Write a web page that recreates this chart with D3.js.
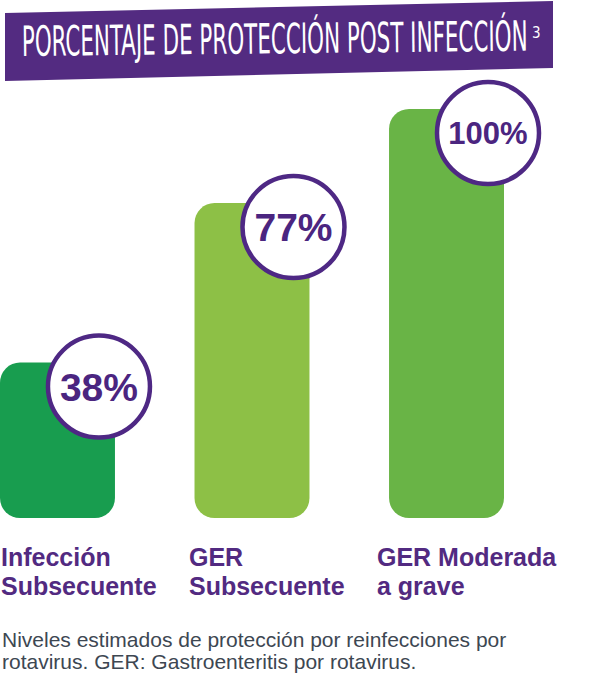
<!DOCTYPE html>
<html>
<head>
<meta charset="utf-8">
<script src="https://cdn.jsdelivr.net/npm/d3@7"></script>
<style>
  body { margin: 0; background: #fff; }
  svg { display: block; }
</style>
</head>
<body>
<div id="chart"></div>
<script>
// data
var categories = ["Infección Subsecuente", "GER Subsecuente", "GER Moderada a grave"]
var labelLines = [["Infección", "Subsecuente"], ["GER", "Subsecuente"], ["GER Moderada", "a grave"]]
var values = [38, 77, 100]
var barColors = ["#189d4f", "#8dc046", "#69b446"]
var title = "PORCENTAJE DE PROTECCIÓN POST INFECCIÓN"
var titleRef = "3"
var footnote = ["Niveles estimados de protección por reinfecciones por",
  "rotavirus. GER: Gastroenteritis por rotavirus."]

var width = 614
var height = 683
var purple = "#522a81"

var svg = d3.select("#chart").append("svg")
  .attr("width", width)
  .attr("height", height)

// title banner (slightly tilted)
svg.append("path")
  .attr("d", "M5,13 L553,1 L553,68 L5,81 Z")
  .attr("fill", "#532b81")

// tall, thin title lettering: fit the width, then stretch vertically
var titleW = 506
var titleG = svg.append("g")
var titleText = titleG.append("text")
  .attr("x", 0)
  .attr("y", 0)
  .style("font-family", "'Liberation Sans Narrow', 'DejaVu Sans Condensed', sans-serif")
  .style("font-size", "24px")
  .style("fill", "#fff")
  .text(title)

var natural = titleText.node().getComputedTextLength()
var fs = 24 * titleW / natural
titleText.style("font-size", fs + "px")
var sy = 30 / (0.72 * fs)
titleG.attr("transform", "translate(22,56) rotate(-0.6) scale(1," + sy + ")")

svg.append("text")
  .attr("x", 22 + titleW + 4)
  .attr("y", 38)
  .style("font-family", "'Liberation Sans Narrow', 'DejaVu Sans Condensed', sans-serif")
  .style("font-size", "15px")
  .style("fill", "#fff")
  .text(titleRef)

// scales
var x = d3.scaleBand()
  .domain(categories)
  .range([0, 504])
  .paddingInner(0.409)
  .paddingOuter(0)

var y = d3.scaleLinear()
  .domain([0, 100])
  .range([518, 109])

var labelX = d3.scalePoint()
  .domain(categories)
  .range([1, 377])

// bars
svg.append("g")
  .selectAll("rect")
  .data(values)
  .enter().append("rect")
  .attr("x", function(d, i) { return x(categories[i]) })
  .attr("y", function(d) { return y(d) })
  .attr("width", x.bandwidth())
  .attr("height", function(d) { return y(0) - y(d) })
  .attr("rx", 20)
  .attr("ry", 20)
  .attr("fill", function(d, i) { return barColors[i] })

// value bubbles
var bubbles = svg.append("g")
  .selectAll("g")
  .data(values)
  .enter().append("g")
  .attr("transform", function(d, i) {
    var cx = x(categories[i]) + x.bandwidth() - 16
    var cy = y(d) + 24
    return "translate(" + cx + "," + cy + ")"
  })

bubbles.append("circle")
  .attr("r", 51)
  .attr("fill", "#fff")
  .attr("stroke", "#4e2884")
  .attr("stroke-width", 4.5)

bubbles.append("text")
  .attr("text-anchor", "middle")
  .attr("y", function(d) { return d >= 100 ? 11 : 14 })
  .style("font-family", "'Liberation Sans', Arial, sans-serif")
  .style("font-weight", "bold")
  .style("font-size", function(d) { return d >= 100 ? "31px" : "39px" })
  .style("fill", "#4b2580")
  .text(function(d) { return d + "%" })

// category labels
var labels = svg.append("g")
  .selectAll("text")
  .data(labelLines)
  .enter().append("text")
  .attr("x", function(d, i) { return labelX(categories[i]) })
  .attr("y", 566)
  .style("font-family", "'Liberation Sans', Arial, sans-serif")
  .style("font-weight", "bold")
  .style("font-size", "25px")
  .style("fill", purple)

labels.selectAll("tspan")
  .data(function(d) { return d })
  .enter().append("tspan")
  .attr("x", function() { return d3.select(this.parentNode).attr("x") })
  .attr("dy", function(d, i) { return i === 0 ? 0 : 29 })
  .text(function(d) { return d })

// footnote
svg.append("g")
  .selectAll("text")
  .data(footnote)
  .enter().append("text")
  .attr("x", 2)
  .attr("y", function(d, i) { return 647 + i * 22 })
  .style("font-family", "'Liberation Sans', Arial, sans-serif")
  .style("font-size", "21px")
  .style("fill", "#3d4752")
  .text(function(d) { return d })
</script>
</body>
</html>
